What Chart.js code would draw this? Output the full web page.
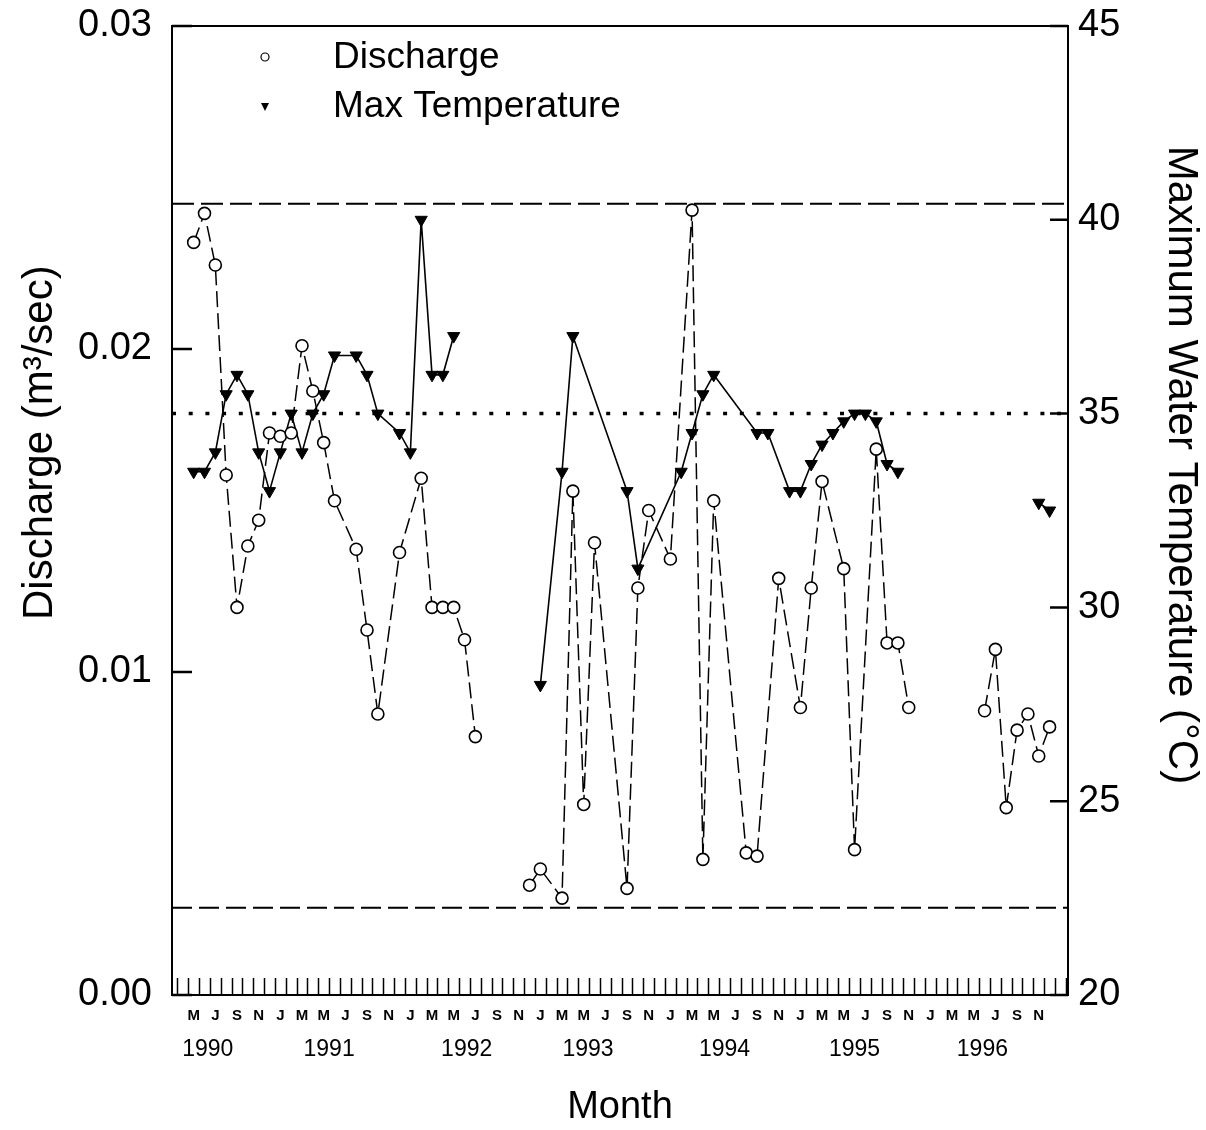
<!DOCTYPE html>
<html>
<head>
<meta charset="utf-8">
<script src="https://cdn.jsdelivr.net/npm/chart.js"></script>
<style>
  html, body { margin: 0; padding: 0; background: #fff; }
</style>
</head>
<body>
<canvas id="myChart" width="1206" height="1130"></canvas>
<script>
// months counted from Jan 1990 (0 = Jan 1990); samples sit mid-month
// null value = break in the line (no sampling)
var dischargeMonth = [4,5,6,7,8,9,10,11,12,13,14,15,16,17,19,20,21,23,25,26,27,28,29,30, 32,
  35,36,38,39,40,41,44,45,46,48,50,51,52,55,56,58,60,61,62,64,65,67,68,69,70, 74,
  77,78,79,80,81,82,83];
var dischargeValue = [0.0233,0.0242,0.0226,0.0161,0.0120,0.0139,0.0147,0.0174,0.0173,0.0174,0.0201,0.0187,
  0.0171,0.0153,0.0138,0.0113,0.0087,0.0137,0.0160,0.0120,0.0120,0.0120,0.0110,0.0080, null,
  0.0034,0.0039,0.0030,0.0156,0.0059,0.0140,0.0033,0.0126,0.0150,0.0135,0.0243,0.0042,0.0153,
  0.0044,0.0043,0.0129,0.0089,0.0126,0.0159,0.0132,0.0045,0.0169,0.0109,0.0109,0.0089, null,
  0.0088,0.0107,0.0058,0.0082,0.0087,0.0074,0.0083];

var tempMonth = [4,5,6,7,8,9,10,11,12,13,14,15,16,17,19,20,21,23,24,25,26,27,28, 32,
  36,38,39,44,45,49,50,51,52,56,57,59,60,61,62,63,64,65,66,67,68,69, 74,
  82,83];
var tempValue = [33.5,33.5,34.0,35.5,36.0,35.5,34.0,33.0,34.0,35.0,34.0,35.0,35.5,36.5,
  36.5,36.0,35.0,34.5,34.0,40.0,36.0,36.0,37.0, null,
  28.0,33.5,37.0,33.0,31.0,33.5,34.5,35.5,36.0,34.5,34.5,33.0,33.0,33.7,34.2,34.5,34.8,35.0,35.0,34.8,33.7,33.5, null,
  32.7,32.5];

// reference lines
var dischargeMax = 0.0245;
var dischargeMin = 0.0027;
var tempLimit = 35;

// axes
var xMin = 2.5, xMax = 85.2;
var monthLetters = ['J','F','M','A','M','J','J','A','S','O','N','D'];
var yearLabels = ['1990','1991','1992','1993','1994','1995','1996'];
var yearPos = [5.8, 17.0, 29.7, 40.9, 53.5, 65.5, 77.3];
var dischargeTicks = [0, 0.01, 0.02, 0.03];
var tempTicks = [20, 25, 30, 35, 40, 45];

var leftTitle = 'Discharge (m\u00B3/sec)';
var rightTitle = 'Maximum Water Temperature (\u00B0C)';
var legendItems = [['Discharge', 'circle'], ['Max Temperature', 'triangle']];

var FONT = '"Liberation Sans", Arial, Helvetica, sans-serif';

var monthLabelPos = [];
for (var m = 4; m <= 82; m += 2) monthLabelPos.push(m + 0.5);

function toPoints(months, values) {
  return months.map(function (mo, i) { return { x: mo + 0.5, y: values[i] }; });
}

// frame, inward tick marks, legend and side titles
var decorations = {
  id: 'decorations',
  afterDatasetsDraw: function (chart) {
    var c = chart.ctx, a = chart.chartArea;
    var xs = chart.scales.x, ys = chart.scales.y, yr = chart.scales.y1;
    c.save();
    c.strokeStyle = '#000';
    c.lineWidth = 2;
    c.strokeRect(a.left, a.top, a.right - a.left, a.bottom - a.top);

    c.lineWidth = 1.5;
    c.beginPath();
    for (var m = Math.ceil(xs.min); m <= Math.floor(xs.max); m++) {
      var px = Math.round(xs.getPixelForValue(m)) + 0.5;
      c.moveTo(px, a.bottom);
      c.lineTo(px, a.bottom - 17);
    }
    c.stroke();

    c.lineWidth = 2.5;
    c.beginPath();
    ys.ticks.forEach(function (t) {
      var py = ys.getPixelForValue(t.value);
      c.moveTo(a.left, py); c.lineTo(a.left + 20, py);
    });
    yr.ticks.forEach(function (t) {
      var py = yr.getPixelForValue(t.value);
      c.moveTo(a.right, py); c.lineTo(a.right - 18, py);
    });
    c.stroke();

    // legend
    c.font = '37px ' + FONT;
    c.fillStyle = '#000';
    c.textBaseline = 'middle';
    c.textAlign = 'left';
    legendItems.forEach(function (item, i) {
      var lx = a.left + 93, ly = a.top + 31 + i * 49;
      c.lineWidth = 1.2;
      if (item[1] === 'circle') {
        c.beginPath();
        c.arc(lx, ly, 4, 0, Math.PI * 2);
        c.fillStyle = '#fff'; c.fill();
        c.stroke();
      } else {
        c.beginPath();
        c.moveTo(lx - 4, ly - 3); c.lineTo(lx + 4, ly - 3); c.lineTo(lx, ly + 5);
        c.closePath();
        c.fillStyle = '#000'; c.fill();
      }
      c.fillStyle = '#000';
      c.fillText(item[0], a.left + 161, ly + 1);
    });

    // side titles
    c.font = '42px ' + FONT;
    c.textAlign = 'center';
    c.save();
    c.translate(40, a.top + (a.bottom - a.top) * 0.43);
    c.rotate(-Math.PI / 2);
    c.fillText(leftTitle, 0, 0);
    c.restore();
    c.save();
    c.translate(1181, a.top + (a.bottom - a.top) * 0.453);
    c.rotate(Math.PI / 2);
    c.fillText(rightTitle, 0, 0);
    c.restore();
    c.restore();
  }
};

function fixSide(w) {
  return function (scale) {
    scale.width = w;
    scale.paddingTop = 0;
    scale.paddingBottom = 0;
  };
}

var ctx = document.getElementById('myChart').getContext('2d');
var myChart = new Chart(ctx, {
  type: 'line',
  data: {
    datasets: [
      {
        label: 'Discharge',
        data: toPoints(dischargeMonth, dischargeValue),
        yAxisID: 'y',
        borderColor: '#000',
        borderWidth: 1.5,
        borderDash: [16, 6],
        pointStyle: 'circle',
        pointRadius: 6,
        pointBackgroundColor: '#fff',
        pointBorderColor: '#000',
        pointBorderWidth: 1.6,
        spanGaps: false,
        tension: 0
      },
      {
        label: 'Max Temperature',
        data: toPoints(tempMonth, tempValue),
        yAxisID: 'y1',
        borderColor: '#000',
        borderWidth: 1.6,
        pointStyle: 'triangle',
        rotation: 180,
        pointRadius: 7,
        pointBackgroundColor: '#000',
        pointBorderColor: '#000',
        pointBorderWidth: 1,
        spanGaps: false,
        tension: 0
      },
      {
        data: [{ x: xMin, y: dischargeMax }, { x: xMax, y: dischargeMax }],
        yAxisID: 'y',
        borderColor: '#000', borderWidth: 2, borderDash: [22, 7], pointRadius: 0
      },
      {
        data: [{ x: xMin, y: dischargeMin }, { x: xMax, y: dischargeMin }],
        yAxisID: 'y',
        borderColor: '#000', borderWidth: 2, borderDash: [20, 7], pointRadius: 0
      },
      {
        data: [{ x: xMin, y: tempLimit }, { x: xMax, y: tempLimit }],
        yAxisID: 'y1',
        borderColor: '#000', borderWidth: 3.5, borderDash: [4, 12.7], pointRadius: 0
      }
    ]
  },
  options: {
    responsive: false,
    animation: false,
    devicePixelRatio: 1,
    layout: { padding: { top: 26, left: 0, right: 0, bottom: 0 } },
    plugins: { legend: { display: false }, tooltip: { enabled: false } },
    scales: {
      x: {
        type: 'linear',
        position: 'bottom',
        min: xMin, max: xMax,
        weight: 0,
        grid: { display: false, tickLength: 0 },
        border: { display: false },
        afterBuildTicks: function (scale) {
          scale.ticks = monthLabelPos.map(function (v) { return { value: v }; });
        },
        afterFit: function (scale) { scale.height = 36; },
        ticks: {
          autoSkip: false, maxRotation: 0, padding: 12, color: '#000',
          font: { family: FONT, size: 15, weight: 'bold' },
          callback: function (v) { return monthLetters[Math.floor(v) % 12]; }
        }
      },
      x2: {
        type: 'linear',
        position: 'bottom',
        min: xMin, max: xMax,
        weight: 1,
        grid: { display: false, tickLength: 0 },
        border: { display: false },
        afterBuildTicks: function (scale) {
          scale.ticks = yearPos.map(function (v) { return { value: v }; });
        },
        afterFit: function (scale) { scale.height = 99; },
        ticks: {
          autoSkip: false, maxRotation: 0, padding: 5, color: '#000',
          font: { family: FONT, size: 23 },
          callback: function (v, i) { return yearLabels[i]; }
        },
        title: {
          display: true, text: 'Month', color: '#000',
          font: { family: FONT, size: 38 },
          padding: { top: 0, bottom: 0 }
        }
      },
      y: {
        position: 'left',
        min: 0, max: 0.03,
        grid: { display: false, tickLength: 0 },
        border: { display: false },
        afterBuildTicks: function (scale) {
          scale.ticks = dischargeTicks.map(function (v) { return { value: v }; });
        },
        afterFit: fixSide(172),
        ticks: {
          padding: 20, color: '#000',
          font: { family: FONT, size: 38 },
          callback: function (v) { return v.toFixed(2); }
        }
      },
      y1: {
        position: 'right',
        min: 20, max: 45,
        grid: { display: false, tickLength: 0 },
        border: { display: false },
        afterBuildTicks: function (scale) {
          scale.ticks = tempTicks.map(function (v) { return { value: v }; });
        },
        afterFit: fixSide(138),
        ticks: {
          padding: 10, color: '#000',
          font: { family: FONT, size: 38 }
        }
      }
    }
  },
  plugins: [decorations]
});
</script>
</body>
</html>
